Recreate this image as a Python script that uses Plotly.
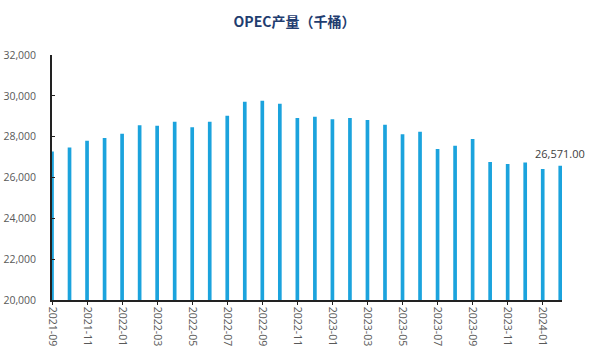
import plotly.graph_objects as go

months = ["2021-09","2021-10","2021-11","2021-12","2022-01","2022-02","2022-03","2022-04",
          "2022-05","2022-06","2022-07","2022-08","2022-09","2022-10","2022-11","2022-12",
          "2023-01","2023-02","2023-03","2023-04","2023-05","2023-06","2023-07","2023-08",
          "2023-09","2023-10","2023-11","2023-12","2024-01","2024-02"]
production = [27270, 27470, 27800, 27940, 28140, 28560, 28530, 28725,
              28460, 28725, 29020, 29706, 29755, 29608, 28920, 28970,
              28850, 28920, 28820, 28580, 28120, 28235, 27400, 27550,
              27890, 26765, 26667, 26730, 26420, 26571]
tick_labels = months[::2]
last_label = "26,571.00"
title_text = "OPEC产量（千桶）"

fig = go.Figure()
fig.add_trace(go.Bar(x=months, y=production, marker_color="#1BA3DD",
                     marker_line_width=0, width=0.21))

fig.add_annotation(x=months[-1], y=production[-1], text=last_label, showarrow=False,
                   yshift=12, font=dict(family="Open Sans, Noto Sans, sans-serif", size=11, color="#404040"))

fig.update_layout(
    width=589, height=355,
    margin=dict(l=52, r=27, t=55, b=55, autoexpand=False),
    paper_bgcolor="white", plot_bgcolor="white",
    showlegend=False,
    title=dict(text="<b>" + title_text + "</b>", x=0.5, xanchor="center", y=0.938, yanchor="middle",
               font=dict(family="Noto Sans CJK SC", size=14, color="#1F3D70")),
)
fig.update_xaxes(type="category", range=[0, 29.1], tickmode="array", tickvals=tick_labels,
                 ticktext=tick_labels, tickangle=90, ticks="outside", ticklen=3, tickcolor="#222",
                 showline=True, linecolor="#222", linewidth=1.5, showgrid=False, automargin=False,
                 tickfont=dict(family="Open Sans, Noto Sans, sans-serif", size=10.5, color="#595959"))
fig.update_yaxes(range=[20000, 32000], dtick=2000, tickformat=",", ticks="inside", ticklen=3,
                 tickcolor="#222", showline=True, linecolor="#222", linewidth=1.5, showgrid=False,
                 zeroline=False, ticklabelstandoff=12, automargin=False,
                 tickfont=dict(family="Open Sans, Noto Sans, sans-serif", size=10.5, color="#595959"))

fig.write_html("out.html")
